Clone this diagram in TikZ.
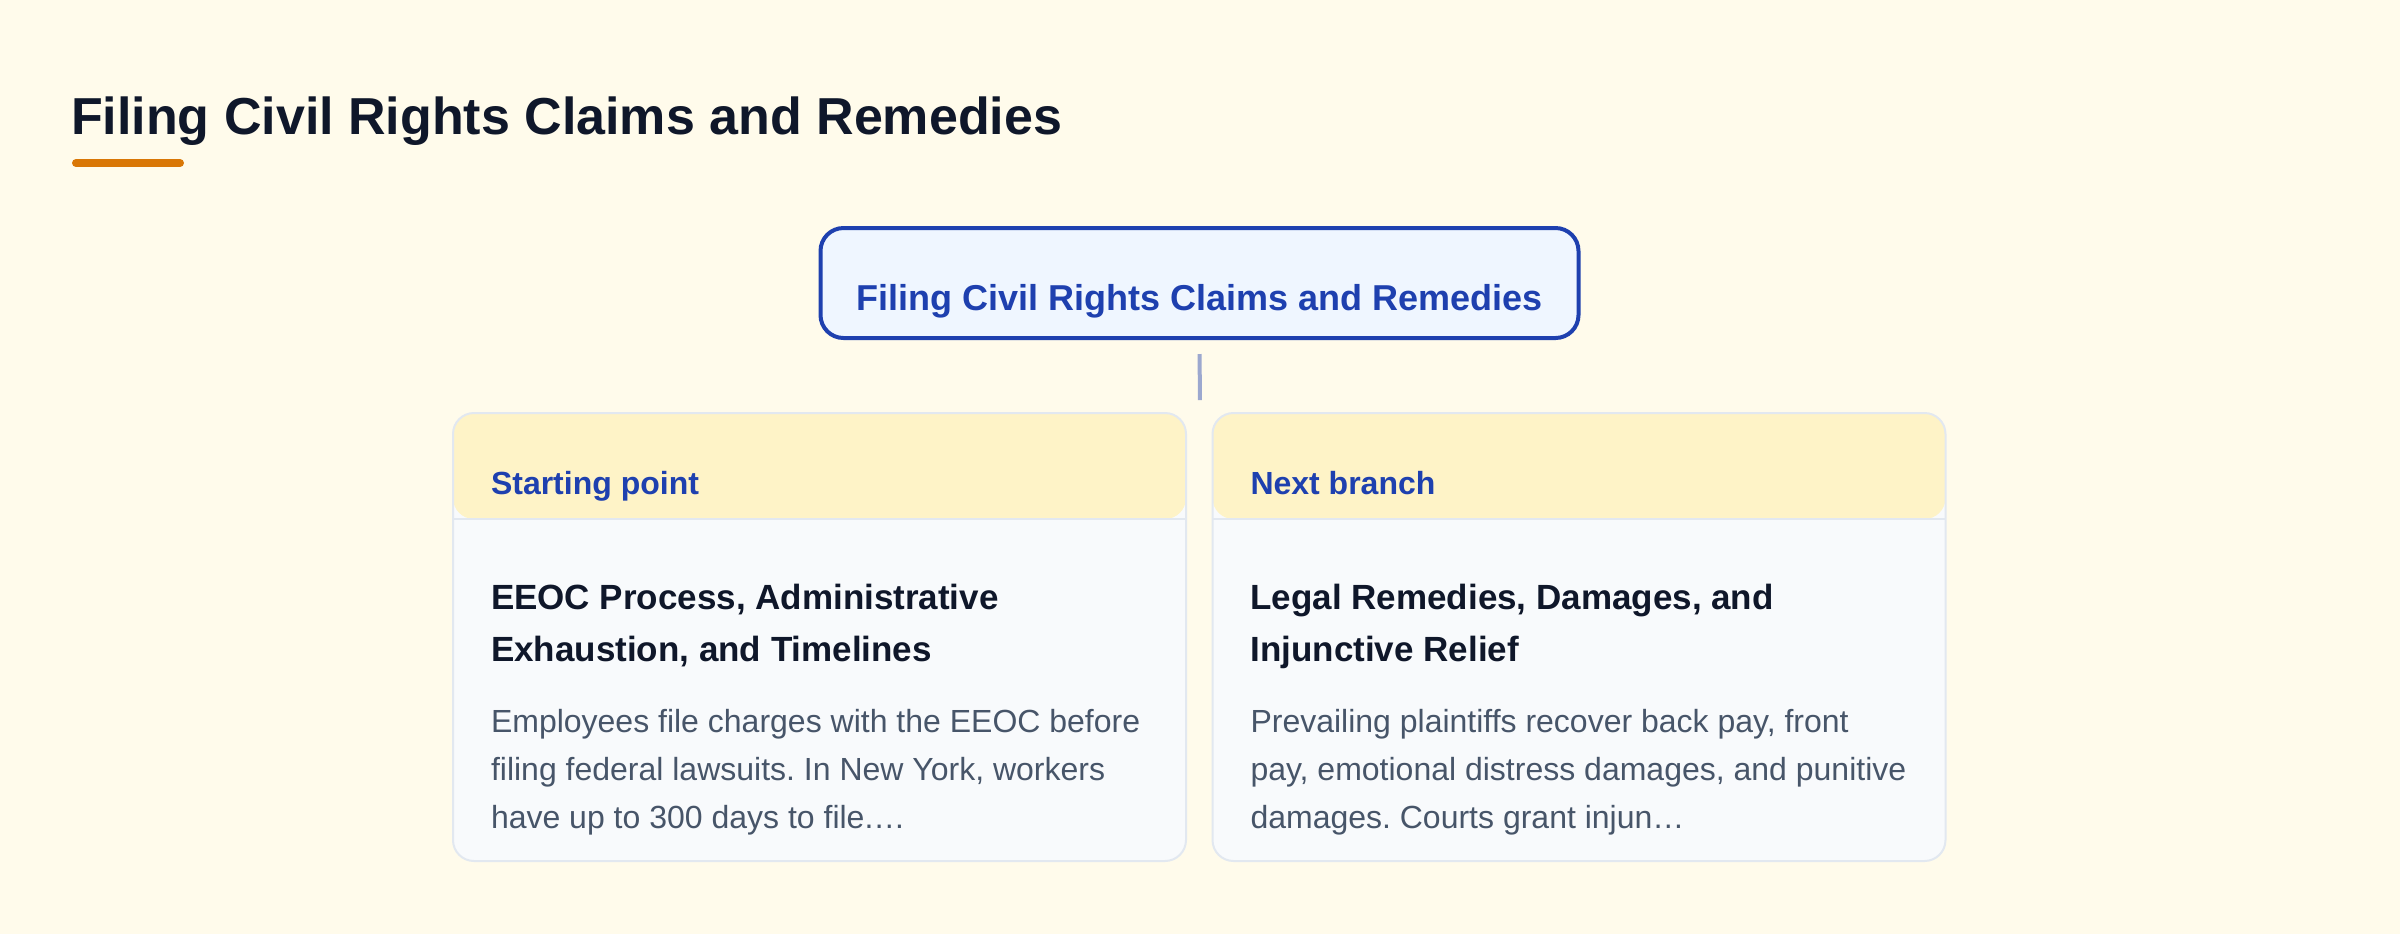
\documentclass[tikz,border=0pt]{standalone}
\usepackage{fontspec}
\setmainfont{Liberation Sans}
\frenchspacing
\definecolor{bgc}{HTML}{FFFBEB}
\definecolor{inkc}{HTML}{0F172A}
\definecolor{bodyc}{HTML}{475569}
\definecolor{bluec}{HTML}{1E40AF}
\definecolor{rootfill}{HTML}{EFF6FF}
\definecolor{hdrc}{HTML}{FEF3C7}
\definecolor{cardc}{HTML}{F8FAFC}
\definecolor{borderc}{HTML}{E2E8F0}
\definecolor{connc}{HTML}{9CA8CF}
\definecolor{accentc}{HTML}{D97706}
\begin{document}
\begin{tikzpicture}[x=0.5pt,y=-0.5pt,
  lbl/.style={anchor=base west, inner sep=0pt, outer sep=0pt},
  maintitle/.style={lbl, text=inkc, font=\fontsize{26pt}{31pt}\selectfont\bfseries},
  rootbox/.style={rectangle, rounded corners=11.5pt, draw=bluec, line width=2pt, fill=rootfill,
    minimum width=379pt, inner xsep=0pt, inner ysep=0pt, text height=41pt, text depth=14pt,
    text=bluec, font=\fontsize{18pt}{22pt}\selectfont\bfseries, anchor=base},
  cardbox/.style={rectangle, rounded corners=10.5pt, draw=borderc, line width=1pt, fill=cardc,
    minimum width=366.5pt, minimum height=224pt, inner sep=0pt,
    path picture={
      \fill[hdrc] (path picture bounding box.north west) rectangle ([yshift=-53pt]path picture bounding box.north east);
      \draw[borderc, line width=1pt] ([yshift=-53pt]path picture bounding box.north west) -- ([yshift=-53pt]path picture bounding box.north east);
    }},
  tag/.style={lbl, text=bluec, font=\fontsize{16pt}{19pt}\selectfont\bfseries},
  cardtitle/.style={lbl, text=inkc, font=\fontsize{17.5pt}{21pt}\selectfont\bfseries},
  cardbody/.style={lbl, text=bodyc, font=\fontsize{16pt}{19pt}\selectfont},
  conn/.style={draw=connc, line width=2pt}
]
\useasboundingbox (0,0) rectangle (2400,934);
\fill[bgc] (0,0) rectangle (2400,934);

% page title
\node[maintitle] (title) at (71,134) {Filing Civil Rights Claims and Remedies};
\draw[accentc, line width=4pt, line cap=round] (76,163) -- (180,163);

% root
\node[rootbox] (root) at (1199.5,310) {Filing Civil Rights Claims and Remedies};

% cards
\node[cardbox] (lcard) at (819.5,637) {};
\node[cardbox] (rcard) at (1579,637) {};

\coordinate (join) at (1200,413);
\draw[conn, shorten <=7pt, shorten >=6.5pt] (root.south) -- (join);

% left card texts
\node[tag] (ltag) at (491,494) {Starting point};
\node[cardtitle] (lt1) at (491,609) {EEOC Process, Administrative};
\node[cardtitle] (lt2) at (491,661) {Exhaustion, and Timelines};
\node[cardbody] (lb1) at (491,732) {Employees file charges with the EEOC before};
\node[cardbody] (lb2) at (491,780) {filing federal lawsuits. In New York, workers};
\node[cardbody] (lb3) at (491,828) {have up to 300 days to file.…};

% right card texts
\node[tag] (rtag) at (1250.5,494) {Next branch};
\node[cardtitle] (rt1) at (1250.5,609) {Legal Remedies, Damages, and};
\node[cardtitle] (rt2) at (1250.5,661) {Injunctive Relief};
\node[cardbody] (rb1) at (1250.5,732) {Prevailing plaintiffs recover back pay, front};
\node[cardbody] (rb2) at (1250.5,780) {pay, emotional distress damages, and punitive};
\node[cardbody] (rb3) at (1250.5,828) {damages. Courts grant injun…};
\end{tikzpicture}
\end{document}
